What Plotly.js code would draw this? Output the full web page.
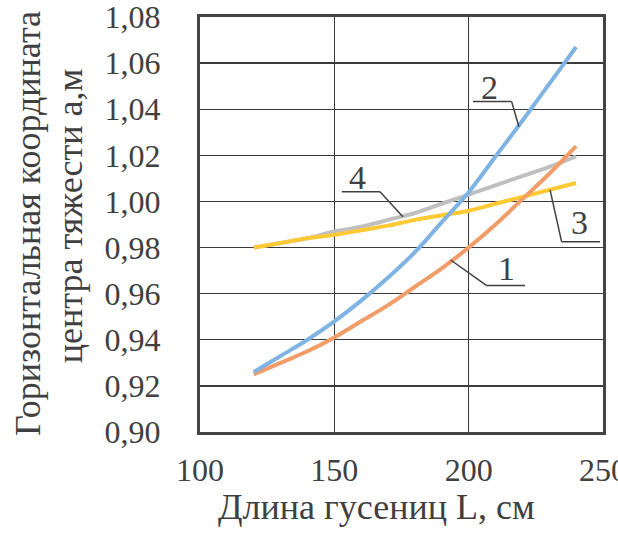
<!DOCTYPE html>
<html>
<head>
<meta charset="utf-8">
<script src="https://cdn.plot.ly/plotly-3.0.1.min.js"></script>
<style>html,body{margin:0;padding:0;background:#fff;}#chart{width:618px;height:536px;}</style>
</head>
<body>
<div id="chart"></div>
<script>
// Data
const lengthL = [120, 130, 140, 150, 160, 170, 180, 190, 200, 210, 220, 230, 240];
const series1 = [0.925, 0.930, 0.935, 0.941, 0.948, 0.955, 0.963, 0.971, 0.980, 0.990, 1.001, 1.012, 1.024];
const series2 = [0.926, 0.933, 0.940, 0.948, 0.957, 0.967, 0.978, 0.991, 1.004, 1.0195, 1.035, 1.051, 1.067];
const series3 = [0.980, 0.982, 0.984, 0.9855, 0.9875, 0.9895, 0.992, 0.994, 0.996, 0.999, 1.002, 1.005, 1.008];
const series4 = [0.980, 0.982, 0.984, 0.987, 0.989, 0.992, 0.995, 0.999, 1.003, 1.007, 1.011, 1.015, 1.0195];
const seriesLabels = ["1", "2", "3", "4"];
const xTickVals = [100, 150, 200, 250];
const yTickVals = [0.90, 0.92, 0.94, 0.96, 0.98, 1.00, 1.02, 1.04, 1.06, 1.08];
const yTickText = ["0,90", "0,92", "0,94", "0,96", "0,98", "1,00", "1,02", "1,04", "1,06", "1,08"];
const xTitle = "Длина гусениц L, см";
const yTitle1 = "Горизонтальная координата";
const yTitle2 = "центра тяжести а,м";

const FONT = '"Liberation Serif", "Times New Roman", serif';
const TXT = '#404040';

function tr(y, color) {
  return {x: lengthL, y: y, type: 'scatter', mode: 'lines',
          line: {color: color, width: 4, shape: 'spline'}, hoverinfo: 'skip'};
}
const data = [
  tr(series4, '#bfbfbf'),
  tr(series3, '#ffc934'),
  tr(series1, '#f29c68'),
  tr(series2, '#7fb3e3')
];

// label positions & leader lines (data coordinates)
const labelPos = [
  {x: 213.9, y: 0.9711},
  {x: 207.9, y: 1.0496},
  {x: 241.4, y: 0.9907},
  {x: 158.8, y: 1.0102}
];
const leaders = [
  [[193.3, 0.9746], [206.7, 0.9635], [221.0, 0.9635]],
  [[201.6, 1.0433], [216.0, 1.0433], [218.7, 1.0324]],
  [[230.3, 1.0050], [234.6, 0.9825], [248.9, 0.9825]],
  [[152.8, 1.0042], [167.0, 1.0042], [175.5, 0.9934]]
];

const shapes = [];
leaders.forEach(pts => {
  for (let i = 0; i < pts.length - 1; i++) {
    shapes.push({type: 'line', xref: 'x', yref: 'y',
      x0: pts[i][0], y0: pts[i][1], x1: pts[i+1][0], y1: pts[i+1][1],
      line: {color: TXT, width: 1.5}});
  }
});

const annotations = labelPos.map((p, i) => ({
  x: p.x, y: p.y, xref: 'x', yref: 'y', text: seriesLabels[i], showarrow: false,
  font: {family: FONT, size: 34, color: TXT}, xanchor: 'center', yanchor: 'middle'
}));
annotations.push({x: 0.439, y: -0.181, xref: 'paper', yref: 'paper', text: xTitle,
  showarrow: false, font: {family: FONT, size: 36, color: TXT}, xanchor: 'center', yanchor: 'middle'});
annotations.push({x: -0.4268, y: 0.5036, xref: 'paper', yref: 'paper', text: yTitle1, textangle: -90,
  showarrow: false, font: {family: FONT, size: 36, color: TXT}, xanchor: 'center', yanchor: 'middle'});
annotations.push({x: -0.322, y: 0.5205, xref: 'paper', yref: 'paper', text: yTitle2, textangle: -90,
  showarrow: false, font: {family: FONT, size: 36, color: TXT}, xanchor: 'center', yanchor: 'middle'});

const layout = {
  width: 618, height: 536,
  margin: {l: 200, r: 15, t: 17, b: 104},
  paper_bgcolor: '#fff', plot_bgcolor: '#fff',
  showlegend: false,
  font: {family: FONT, size: 32, color: TXT},
  xaxis: {range: [100, 250], tickvals: xTickVals, ticktext: xTickVals.map(String),
    showgrid: true, gridcolor: '#3a3a3a', gridwidth: 1.3, zeroline: false,
    showline: true, linecolor: '#444', linewidth: 3, mirror: true,
    ticks: 'outside', ticklen: 8, tickcolor: 'rgba(0,0,0,0)', ticklabeloverflow: 'allow',
    tickfont: {family: FONT, size: 32, color: TXT}, fixedrange: true},
  yaxis: {range: [0.90, 1.08], tickvals: yTickVals, ticktext: yTickText,
    showgrid: true, gridcolor: '#3a3a3a', gridwidth: 1.3, zeroline: false,
    showline: true, linecolor: '#444', linewidth: 3, mirror: true,
    ticks: 'outside', ticklen: 30, tickcolor: 'rgba(0,0,0,0)', ticklabeloverflow: 'allow',
    tickfont: {family: FONT, size: 32, color: TXT}, fixedrange: true},
  shapes: shapes,
  annotations: annotations
};

Plotly.newPlot('chart', data, layout, {displayModeBar: false, staticPlot: true});
</script>
</body>
</html>
